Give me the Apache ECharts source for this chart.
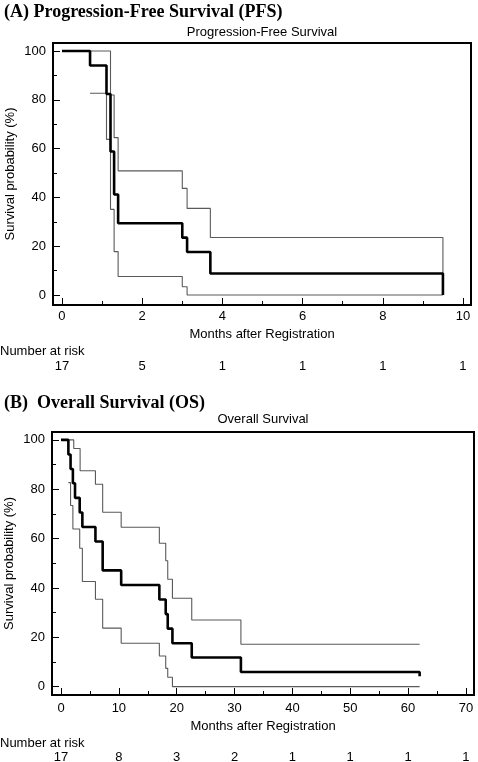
<!DOCTYPE html>
<html>
<head>
<meta charset="utf-8">
<script src="https://cdn.jsdelivr.net/npm/echarts@6/dist/echarts.min.js"></script>
<style>
  html, body { margin: 0; padding: 0; background: #fff; }
  #chart { width: 478px; height: 762px; }
</style>
</head>
<body>
<div id="chart"></div>
<script>
// ---- Data ----
// (A) Progression-Free Survival: Kaplan-Meier estimate and 95% CI
const pfsTime       = [0, 0.70, 1.11, 1.21, 1.30, 1.40, 3.00, 3.12, 3.70, 9.50];
const pfsSurv       = [100, 94.1, 82.4, 58.8, 41.2, 29.4, 23.5, 17.6, 8.8, 0];
const pfsUpperTime  = [0, 1.21, 1.30, 1.40, 3.00, 3.12, 3.70, 9.50];
const pfsUpper      = [100, 82.0, 64.5, 50.9, 43.7, 35.5, 23.6, 0];
const pfsLowerTime  = [0.70, 1.11, 1.21, 1.30, 1.40, 3.00, 3.12, 9.50];
const pfsLower      = [82.7, 63.8, 35.1, 17.8, 7.6, 3.4, 0, 0];
const pfsXTicks     = [0, 2, 4, 6, 8, 10];
const pfsXMinor     = [1, 3, 5, 7, 9];
const pfsRisk       = [17, 5, 1, 1, 1, 1];

// (B) Overall Survival
const osTime        = [0, 1.27, 1.65, 2.05, 2.42, 3.23, 3.69, 5.95, 7.2, 10.4, 17.0, 18.1, 18.45, 19.26, 22.6, 31.1, 62.0];
const osSurv        = [100, 94.1, 88.2, 82.4, 76.5, 70.6, 64.7, 58.8, 47.1, 41.2, 35.3, 29.4, 23.5, 17.6, 11.8, 5.9, 4.2];
const osUpperTime   = [0, 2.2, 3.3, 5.95, 7.2, 10.4, 17.0, 18.1, 18.45, 19.26, 22.6, 31.1, 62.0];
const osUpper       = [100, 96.5, 87.5, 82.0, 70.7, 64.6, 58.1, 51.0, 43.5, 35.8, 27.0, 17.2, 17.2];
const osLowerTime   = [1.27, 1.65, 2.05, 3.23, 3.69, 5.95, 7.2, 10.4, 17.0, 18.1, 18.45, 19.26, 62.0];
const osLower       = [82.7, 73.4, 63.9, 56.1, 42.6, 35.4, 23.7, 17.6, 12.4, 7.4, 3.8, 0, 0];
const osXTicks      = [0, 10, 20, 30, 40, 50, 60, 70];
const osXMinor      = [5, 15, 25, 35, 45, 55, 65];
const osRisk        = [17, 8, 3, 2, 1, 1, 1, 1];

const yTicks        = [0, 20, 40, 60, 80, 100];
const yMinor        = [10, 30, 50, 70, 90];

const titleA = '(A) Progression-Free Survival (PFS)';
const titleB = '(B)  Overall Survival (OS)';
const subA = 'Progression-Free Survival';
const subB = 'Overall Survival';
const xName = 'Months after Registration';
const yName = 'Survival probability (%)';
const riskLabel = 'Number at risk';

// ---- Chart ----
const SANS = 'Liberation Sans, Arial, sans-serif';
const SERIF = 'Liberation Serif, Times New Roman, serif';
const txt = { color: '#000', fontSize: 13, fontFamily: SANS };

function pairs(t, v) { return t.map((x, i) => [x, v[i]]); }

function makeXAxes(gi, min, max, ticks, minor, risk, lay) {
  const base = { type: 'value', gridIndex: gi, min: min, max: max, position: 'bottom',
    splitLine: { show: false }, axisLine: { show: false, onZero: false } };
  return [
    Object.assign({}, base, {
      axisTick: { show: true, inside: true, length: 7, customValues: ticks, lineStyle: { color: '#000', width: 1 } },
      axisLabel: Object.assign({ customValues: ticks, margin: lay.margin }, txt),
      name: xName, nameLocation: 'middle', nameGap: lay.nameGap, nameMoveOverlap: false,
      nameTextStyle: Object.assign({}, txt)
    }),
    Object.assign({}, base, {
      axisTick: { show: true, inside: true, length: 4, customValues: minor, lineStyle: { color: '#000', width: 1 } },
      axisLabel: { show: false }
    }),
    Object.assign({}, base, {
      offset: lay.riskOffset,
      axisTick: { show: false },
      axisLabel: Object.assign({ customValues: ticks, margin: 4,
        formatter: function (v) { const i = ticks.indexOf(v); return i >= 0 ? String(risk[i]) : ''; } }, txt)
    })
  ];
}

function makeYAxes(gi, min, max) {
  const base = { type: 'value', gridIndex: gi, min: min, max: max, position: 'left',
    splitLine: { show: false }, axisLine: { show: false, onZero: false } };
  return [
    Object.assign({}, base, {
      axisTick: { show: true, inside: true, length: 7, customValues: yTicks, lineStyle: { color: '#000', width: 1 } },
      axisLabel: Object.assign({ customValues: yTicks, margin: 7 }, txt),
      name: yName, nameLocation: 'middle', nameGap: 36, nameMoveOverlap: false,
      nameTextStyle: Object.assign({}, txt)
    }),
    Object.assign({}, base, {
      axisTick: { show: true, inside: true, length: 4, customValues: yMinor, lineStyle: { color: '#000', width: 1 } },
      axisLabel: { show: false }
    })
  ];
}

function stepLine(xi, yi, data, thick) {
  return {
    type: 'line', xAxisIndex: xi, yAxisIndex: yi, data: data, step: 'end',
    showSymbol: false, symbol: 'none', animation: false, silent: true,
    lineStyle: thick ? { color: '#000', width: 2.6 } : { color: '#5a5a5a', width: 1.1 },
    z: thick ? 5 : 3
  };
}

const chart = echarts.init(document.getElementById('chart'), null, { renderer: 'canvas' });

const option = {
  animation: false,
  backgroundColor: '#fff',
  title: [
    { text: titleA, left: 4, top: 3, padding: 0,
      textStyle: { fontFamily: SERIF, fontWeight: 'bold', fontSize: 18, color: '#000' } },
    { text: titleB, left: 4, top: 394, padding: 0,
      textStyle: { fontFamily: SERIF, fontWeight: 'bold', fontSize: 18, color: '#000' } }
  ],
  grid: [
    { left: 53, right: 7, top: 43, height: 262, show: true, borderColor: '#000', borderWidth: 2,
      containLabel: false, outerBoundsMode: 'none' },
    { left: 52, right: 4, top: 432, height: 263, show: true, borderColor: '#000', borderWidth: 2,
      containLabel: false, outerBoundsMode: 'none' }
  ],
  xAxis: [].concat(
    makeXAxes(0, -0.224, 10.2, pfsXTicks, pfsXMinor, pfsRisk, { margin: 5, nameGap: 23, riskOffset: 51 }),
    makeXAxes(1, -1.56, 71.4, osXTicks, osXMinor, osRisk, { margin: 7, nameGap: 25, riskOffset: 52 })
  ),
  yAxis: [].concat(
    makeYAxes(0, -4.1, 103.3),
    makeYAxes(1, -3.4, 103.2)
  ),
  graphic: [
    { type: 'text', left: 0, top: 345, style: { text: riskLabel, fill: '#000', font: '13px ' + SANS } },
    { type: 'text', left: 0, top: 737, style: { text: riskLabel, fill: '#000', font: '13px ' + SANS } },
    { type: 'text', x: 262, y: 32, style: { text: subA, fill: '#000', font: '13px ' + SANS, textAlign: 'center', textVerticalAlign: 'middle' } },
    { type: 'text', x: 263, y: 419, style: { text: subB, fill: '#000', font: '13px ' + SANS, textAlign: 'center', textVerticalAlign: 'middle' } }
  ],
  series: [
    stepLine(0, 0, pairs(pfsUpperTime, pfsUpper), false),
    stepLine(0, 0, pairs(pfsLowerTime, pfsLower), false),
    stepLine(0, 0, pairs(pfsTime, pfsSurv), true),
    stepLine(3, 2, pairs(osUpperTime, osUpper), false),
    stepLine(3, 2, pairs(osLowerTime, osLower), false),
    stepLine(3, 2, pairs(osTime, osSurv), true)
  ]
};

chart.setOption(option);
</script>
</body>
</html>
